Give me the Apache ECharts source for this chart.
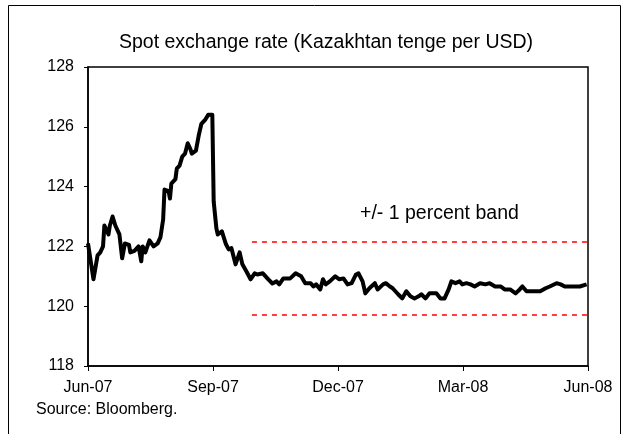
<!DOCTYPE html>
<html>
<head>
<meta charset="utf-8">
<script src="https://cdn.jsdelivr.net/npm/echarts@6/dist/echarts.min.js"></script>
<style>
html, body { margin: 0; padding: 0; background: #fff; }
#container { width: 630px; height: 434px; }
</style>
</head>
<body>
<div id="container"></div>
<script>
// days since 1 Jun 2007
var dayOffsets = [0, 2, 4, 7, 9, 11, 12, 15, 16, 18, 20, 23, 25, 27, 30, 31, 34, 37, 39, 40,
    42, 45, 48, 51, 53, 55, 56, 59, 60, 61, 64, 65, 67, 69, 71, 73, 75, 76, 79, 81,
    83, 86, 88, 91, 92, 94, 95, 98, 101, 103, 105, 108, 111, 113, 116, 119, 122, 124, 128, 132,
    135, 138, 140, 143, 148, 152, 156, 159, 163, 165, 167, 170, 172, 174, 177, 181, 184, 187, 190, 193,
    196, 198, 201, 203, 206, 210, 212, 216, 218, 221, 223, 227, 230, 233, 236, 239, 242, 244, 247, 250,
    253, 255, 258, 261, 264, 266, 269, 272, 274, 277, 280, 283, 287, 291, 294, 298, 302, 305, 309, 313,
    316, 318, 321, 324, 327, 331, 335, 338, 343, 346, 349, 353, 356, 360, 365];
var rates = [122.1, 121.5, 120.9, 121.7, 121.8, 122.0, 122.7, 122.4, 122.7, 123.0, 122.7, 122.4, 121.6, 122.1, 122.05, 121.8, 121.85, 122.0, 121.5, 122.0,
    121.8, 122.2, 122.0, 122.1, 122.3, 122.9, 123.9, 123.85, 123.6, 124.1, 124.25, 124.6, 124.7, 125.0, 125.1, 125.45, 125.25, 125.1, 125.2, 125.7,
    126.1, 126.25, 126.4, 126.4, 123.5, 122.6, 122.4, 122.5, 122.07, 121.9, 121.94, 121.4, 121.8, 121.4, 121.16, 120.9, 121.1, 121.06, 121.1, 120.9,
    120.76, 120.83, 120.73, 120.93, 120.93, 121.1, 121.0, 120.77, 120.77, 120.66, 120.73, 120.56, 120.9, 120.73, 120.83, 121.0, 120.9, 120.93, 120.73, 120.77,
    121.05, 121.1, 120.83, 120.43, 120.6, 120.77, 120.56, 120.73, 120.77, 120.66, 120.6, 120.4, 120.26, 120.5, 120.33, 120.26, 120.33, 120.4, 120.26, 120.43,
    120.43, 120.43, 120.26, 120.26, 120.56, 120.83, 120.77, 120.83, 120.73, 120.77, 120.73, 120.66, 120.77, 120.73, 120.77, 120.66, 120.66, 120.56, 120.56, 120.43,
    120.56, 120.66, 120.5, 120.5, 120.5, 120.5, 120.6, 120.66, 120.77, 120.73, 120.66, 120.66, 120.66, 120.66, 120.73];

var tickLabels = ['Jun-07', 'Sep-07', 'Dec-07', 'Mar-08', 'Jun-08'];
var bandStart = 120;   // day the band lines begin
var bandUpper = 122.14;
var bandLower = 119.72;

var seriesData = [];
for (var i = 0; i < dayOffsets.length; i++) {
    seriesData.push([dayOffsets[i], rates[i]]);
}

var font = 'Liberation Sans, Arial, sans-serif';

var option = {
    animation: false,
    backgroundColor: '#fff',
    title: {
        text: 'Spot exchange rate (Kazakhtan tenge per USD)',
        left: 321,
        top: 28,
        textAlign: 'center',
        textStyle: { fontFamily: font, fontSize: 19.5, fontWeight: 'normal', color: '#000' }
    },
    grid: { left: 88, right: 42, top: 67, bottom: 68, show: true, borderColor: '#000', borderWidth: 1.5 },
    xAxis: {
        type: 'value',
        min: 0,
        max: 366,
        interval: 91.5,
        axisLine: { lineStyle: { color: '#000', width: 1.5 } },
        axisTick: { show: true, length: 5, lineStyle: { color: '#000' } },
        splitLine: { show: false },
        axisLabel: {
            margin: 14,
            fontFamily: font, fontSize: 16, color: '#000',
            formatter: function (v) { return tickLabels[Math.round(v / 91.5)]; }
        }
    },
    yAxis: {
        type: 'value',
        min: 118,
        max: 128,
        interval: 2,
        axisLine: { show: true, lineStyle: { color: '#000', width: 1.5 } },
        axisTick: { show: true, length: 4, lineStyle: { color: '#000' } },
        splitLine: { show: false },
        axisLabel: { margin: 14, fontFamily: font, fontSize: 16, color: '#000' }
    },
    graphic: [
        {
            type: 'rect',
            shape: { x: 8.5, y: 5.5, width: 612, height: 460 },
            style: { fill: 'none', stroke: '#000', lineWidth: 1 }
        },
        {
            type: 'text',
            left: 360,
            top: 204,
            style: { text: '+/- 1 percent band', font: '19.5px ' + font, fill: '#000' }
        },
        {
            type: 'text',
            left: 36,
            top: 402,
            style: { text: 'Source: Bloomberg.', font: '16px ' + font, fill: '#000' }
        }
    ],
    series: [
        {
            type: 'line',
            data: seriesData,
            symbol: 'none',
            lineStyle: { color: '#000', width: 4, join: 'round' },
            z: 3,
            markLine: {
                silent: true,
                symbol: 'none',
                label: { show: false },
                lineStyle: { color: '#ff0000', type: [5, 5], width: 1.5 },
                data: [
                    [{ coord: [bandStart, bandUpper] }, { coord: [366, bandUpper] }],
                    [{ coord: [bandStart, bandLower] }, { coord: [366, bandLower] }]
                ]
            }
        }
    ]
};

var myChart = echarts.init(document.getElementById('container'));
myChart.setOption(option);
</script>
</body>
</html>
